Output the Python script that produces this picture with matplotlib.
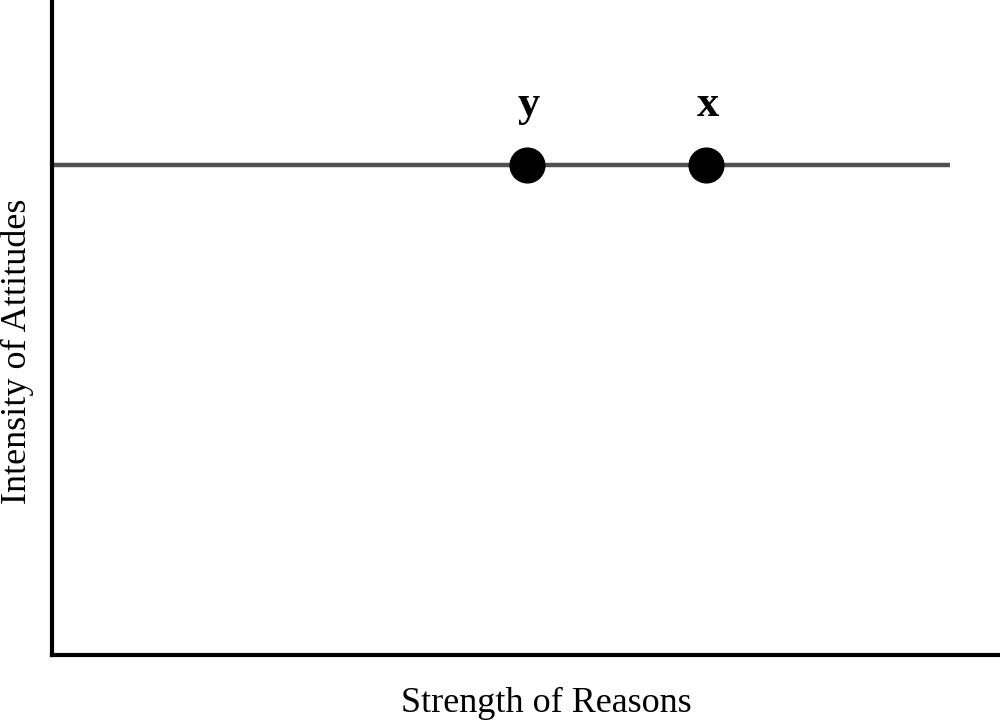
import matplotlib
matplotlib.use("Agg")
import matplotlib.pyplot as plt

# Data
line_x = [0.0, 9.47]
line_y = [7.48, 7.48]
point_x = [5.01, 6.90]
point_y = [7.48, 7.48]
point_labels = ["y", "x"]
x_label = "Strength of Reasons"
y_label = "Intensity of Attitudes"

plt.rcParams['font.family'] = ['Liberation Serif', 'DejaVu Serif']

fig = plt.figure(figsize=(10, 7.21), dpi=100)
ax = fig.add_axes([0.052, 1 - 655/721, 0.948, 655/721])
ax.set_xlim(0, 10)
ax.set_ylim(0, 10)

ax.plot(line_x, line_y, color='#505050', linewidth=3.2, solid_capstyle='butt', zorder=2)
ax.plot(point_x, point_y, 'o', color='black', markersize=25, zorder=3)
for px, py, lab in zip(point_x, point_y, point_labels):
    ax.annotate(lab, (px, py), xytext=(1, 35), textcoords='offset points',
                ha='center', va='baseline', fontsize=32, fontweight='bold', color='black')

for s in ['top', 'right']:
    ax.spines[s].set_visible(False)
for s in ['left', 'bottom']:
    ax.spines[s].set_linewidth(3)
    ax.spines[s].set_color('black')
ax.set_xticks([])
ax.set_yticks([])

ax.set_xlabel(x_label, fontsize=26, va='center')
ax.set_ylabel(y_label, fontsize=26, va='center')
ax.xaxis.set_label_coords(0.521, -48/655)
ax.yaxis.set_label_coords(-35/948, 0.463)

fig.savefig("out.png", dpi=100, facecolor='white')
